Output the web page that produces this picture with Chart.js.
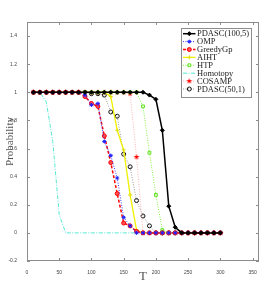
<!DOCTYPE html>
<html>
<head>
<meta charset="utf-8">
<script src="https://cdn.jsdelivr.net/npm/chart.js@4/dist/chart.umd.min.js"></script>
<style>
	html, body { margin: 0; padding: 0; background: #fff; }
	canvas { display: block; }
</style>
</head>
<body>
<canvas id="probChart" width="275" height="294"></canvas>
<script>
// sample sizes T
var T = [10, 20, 30, 40, 50, 60, 70, 80, 90, 100, 110, 120, 130, 140, 150,
	160, 170, 180, 190, 200, 210, 220, 230, 240, 250, 260, 270, 280, 290, 300];

var pdasc100 = [1, 1, 1, 1, 1, 1, 1, 1, 1, 1, 1, 1, 1, 1, 1,
	1, 1, 1, 0.98, 0.95, 0.73, 0.19, 0.04, 0, 0, 0, 0, 0, 0, 0];
var omp = [1, 1, 1, 1, 1, 1, 1, 1, 0.98, 0.91, 0.92, 0.65, 0.55, 0.39, 0.11,
	0.05, 0, 0, 0, 0, 0, 0, 0, 0, 0, 0, 0, 0, 0, 0];
var greedyGp = [1, 1, 1, 1, 1, 1, 1, 1, 0.97, 0.92, 0.9, 0.69, 0.5, 0.28, 0.07,
	0.05, 0.01, 0, 0, 0, 0, 0, 0, 0, 0, 0, 0, 0, 0, 0];
var aiht = [1, 1, 1, 1, 1, 1, 1, 1, 1, 1, 1, 1, 0.97, 0.73, 0.59,
	0.27, 0.02, 0, 0, 0, 0, 0, 0, 0, 0, 0, 0, 0, 0, 0];
var htp = [1, 1, 1, 1, 1, 1, 1, 1, 1, 1, 1, 1, 1, 1, 1,
	1, 1, 0.9, 0.57, 0.27, 0.02, 0, 0, 0, 0, 0, 0, 0, 0, 0];
var homotopy = [1, 1, 0.93, 0.65, 0.13, 0, 0, 0, 0, 0, 0, 0, 0, 0, 0,
	0, 0];
var cosamp = [1, 1, 1, 1, 1, 1, 1, 1, 1, 1, 1, 1, 1, 1, 1,
	0.99, 0.54, 0, 0, 0, 0, 0, 0, 0, 0, 0, 0, 0, 0, 0];
var pdasc50 = [1, 1, 1, 1, 1, 1, 1, 1, 1, 0.99, 0.99, 0.98, 0.86, 0.83, 0.56,
	0.47, 0.23, 0.12, 0.05, 0, 0, 0, 0, 0, 0, 0, 0, 0, 0, 0];

var xTicks = [0, 50, 100, 150, 200, 250, 300, 350];
var yTicks = [-0.2, 0, 0.2, 0.4, 0.6, 0.8, 1, 1.2, 1.4];

function pts(ys) {
	return ys.map(function (y, i) { return {x: T[i], y: y}; });
}

// red five-point star for COSAMP
function pentagram(color, r) {
	var c = document.createElement('canvas');
	c.width = c.height = r * 2 + 2;
	var g = c.getContext('2d');
	g.fillStyle = color;
	g.beginPath();
	for (var k = 0; k < 10; k++) {
		var rr = k % 2 ? r * 0.42 : r;
		var a = -Math.PI / 2 + k * Math.PI / 5;
		var px = r + 1 + rr * Math.cos(a), py = r + 1 + rr * Math.sin(a);
		if (k === 0) g.moveTo(px, py); else g.lineTo(px, py);
	}
	g.closePath();
	g.fill();
	return c;
}
var starImg = pentagram('#ff0000', 3);

// box, inward ticks and the legend inside the plot (upper right)
var boxPlugin = {
	id: 'matlabBox',
	afterDraw: function (chart) {
		var ctx = chart.ctx, a = chart.chartArea;
		var xs = chart.scales.x, ys = chart.scales.y;
		ctx.save();
		ctx.strokeStyle = '#8c8c8c';
		ctx.lineWidth = 1;
		ctx.strokeRect(a.left + 0.5, a.top + 0.5, a.right - a.left - 1, a.bottom - a.top - 1);
		ctx.beginPath();
		xTicks.forEach(function (v) {
			var px = Math.round(xs.getPixelForValue(v)) + 0.5;
			ctx.moveTo(px, a.bottom); ctx.lineTo(px, a.bottom - 3);
			ctx.moveTo(px, a.top); ctx.lineTo(px, a.top + 3);
		});
		yTicks.forEach(function (v) {
			var py = Math.round(ys.getPixelForValue(v)) + 0.5;
			ctx.moveTo(a.left, py); ctx.lineTo(a.left + 3, py);
			ctx.moveTo(a.right, py); ctx.lineTo(a.right - 3, py);
		});
		ctx.stroke();

		// legend
		var lx = 181, ly = 28, lw = 70, lh = 69;
		ctx.fillStyle = '#fff';
		ctx.fillRect(lx, ly, lw, lh);
		ctx.strokeStyle = '#8c8c8c';
		ctx.strokeRect(lx + 0.5, ly + 0.5, lw, lh);
		ctx.font = '8.5px "Liberation Serif", serif';
		ctx.textBaseline = 'middle';
		chart.data.datasets.forEach(function (ds, i) {
			var cy = 33.7 + i * 7.9;
			ctx.save();
			ctx.strokeStyle = ds.borderColor;
			ctx.lineWidth = ds.borderWidth;
			ctx.setLineDash(ds.borderDash || []);
			ctx.beginPath();
			ctx.moveTo(183, cy); ctx.lineTo(195.5, cy);
			ctx.stroke();
			ctx.restore();
			if (ds.pointStyle && ds.pointRadius > 0 && Chart.helpers && Chart.helpers.drawPoint) {
				ctx.save();
				ctx.strokeStyle = ds.pointBorderColor;
				ctx.fillStyle = ds.pointBackgroundColor;
				ctx.lineWidth = ds.pointBorderWidth;
				Chart.helpers.drawPoint(ctx, {pointStyle: ds.pointStyle, radius: ds.pointRadius, borderWidth: ds.pointBorderWidth, rotation: 0}, 189.3, cy);
				ctx.restore();
			}
			ctx.fillStyle = '#222';
			ctx.fillText(ds.label, 197, cy + 0.5);
		});
		ctx.restore();
	}
};

new Chart(document.getElementById('probChart'), {
	type: 'line',
	data: {
		datasets: [
			{
				label: 'PDASC(100,5)',
				data: pts(pdasc100),
				borderColor: '#000', borderWidth: 1.5,
				pointStyle: 'rectRot', pointRadius: 2,
				pointBackgroundColor: '#000', pointBorderColor: '#000', pointBorderWidth: 1
			},
			{
				label: 'OMP',
				data: pts(omp),
				borderColor: '#3a3aff', borderWidth: 1, borderDash: [1, 1.5],
				pointStyle: 'star', pointRadius: 2,
				pointBackgroundColor: '#2020ff', pointBorderColor: '#2020ff', pointBorderWidth: 1
			},
			{
				label: 'GreedyGp',
				data: pts(greedyGp),
				borderColor: '#ff0000', borderWidth: 1.5, borderDash: [3, 2],
				pointStyle: 'circle', pointRadius: 2,
				pointBackgroundColor: '#ff5050', pointBorderColor: '#ff0000', pointBorderWidth: 1
			},
			{
				label: 'AIHT',
				data: pts(aiht),
				borderColor: '#f0f000', borderWidth: 1.3,
				pointStyle: 'cross', pointRadius: 2,
				pointBackgroundColor: '#e0e000', pointBorderColor: '#e0e000', pointBorderWidth: 1
			},
			{
				label: 'HTP',
				data: pts(htp),
				borderColor: '#80f040', borderWidth: 1, borderDash: [1, 1.5],
				pointStyle: 'rect', pointRadius: 2,
				pointBackgroundColor: 'rgba(255,255,255,0)', pointBorderColor: '#60e020', pointBorderWidth: 1
			},
			{
				label: 'Homotopy',
				data: pts(homotopy),
				borderColor: '#55e8d2', borderWidth: 1, borderDash: [4, 1.5, 1, 1.5],
				pointStyle: false, pointRadius: 0
			},
			{
				label: 'COSAMP',
				data: pts(cosamp),
				borderColor: '#ffb0b0', borderWidth: 1, borderDash: [1, 1.5],
				pointStyle: starImg, pointRadius: 3,
				pointBackgroundColor: '#ff0000', pointBorderColor: '#ff0000', pointBorderWidth: 1
			},
			{
				label: 'PDASC(50,1)',
				data: pts(pdasc50),
				borderColor: '#9a9a9a', borderWidth: 1, borderDash: [1, 1.5],
				pointStyle: 'circle', pointRadius: 2,
				pointBackgroundColor: 'rgba(255,255,255,0)', pointBorderColor: '#111', pointBorderWidth: 1
			}
		]
	},
	options: {
		responsive: false,
		animation: false,
		devicePixelRatio: 1,
		layout: { padding: { top: 22, right: 16, left: 0, bottom: 0 } },
		elements: { line: { tension: 0 } },
		plugins: {
			legend: { display: false },
			tooltip: { enabled: false }
		},
		scales: {
			x: {
				type: 'linear',
				min: 0, max: 360,
				afterBuildTicks: function (s) { s.ticks = xTicks.map(function (v) { return {value: v}; }); },
				afterFit: function (s) { s.height = 33; },
				grid: { display: false },
				border: { display: false },
				ticks: {
					font: { size: 5, family: 'Arial, "Liberation Sans", sans-serif' },
					color: '#444', padding: 1, maxRotation: 0, autoSkip: false,
					callback: function (v) { return String(v); }
				},
				title: {
					display: true, text: 'T', color: '#555',
					font: { size: 13, family: '"Liberation Serif", serif' },
					padding: { top: 0, bottom: 10 }
				}
			},
			y: {
				min: -0.2, max: 1.5,
				afterBuildTicks: function (s) { s.ticks = yTicks.map(function (v) { return {value: v}; }); },
				afterFit: function (s) { s.width = 27; },
				grid: { display: false },
				border: { display: false },
				ticks: {
					font: { size: 5, family: 'Arial, "Liberation Sans", sans-serif' },
					color: '#444', padding: 2, autoSkip: false,
					callback: function (v) { return String(+v.toFixed(1)); }
				},
				title: {
					display: true, text: 'Probability', color: '#555',
					font: { size: 11, family: '"Liberation Serif", serif' },
					padding: { top: 4, bottom: 0 }
				}
			}
		}
	},
	plugins: [boxPlugin]
});
</script>
</body>
</html>
